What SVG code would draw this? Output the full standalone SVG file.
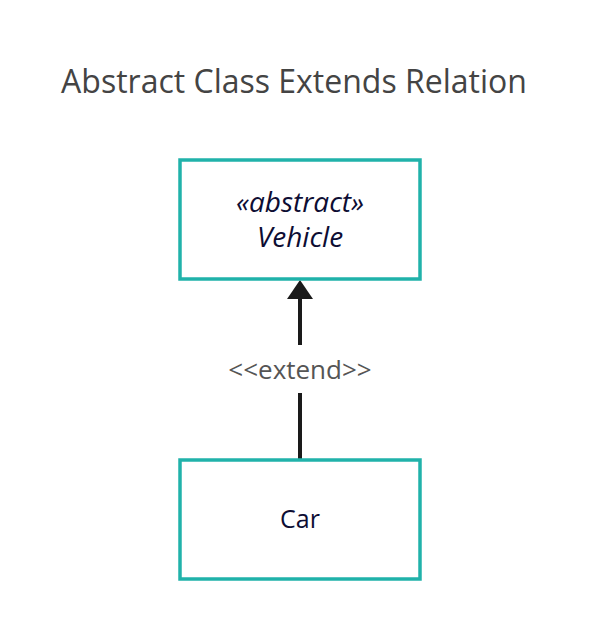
<svg xmlns="http://www.w3.org/2000/svg" width="600" height="621" viewBox="0 0 600 621">
<style>
.box{fill:#ffffff;stroke:#20b2aa;stroke-width:3.5}
.t{font-family:"Open Sans","Liberation Sans",sans-serif;fill:#0d0d33;text-anchor:middle}
.it{font-style:italic;font-size:28px}
.edge{stroke:#1a1a1a;stroke-width:4;fill:none}
</style>
<rect width="600" height="621" fill="#ffffff"/>
<text x="294" y="93" font-family="'Open Sans','Liberation Sans',sans-serif" font-size="32" fill="#444444" text-anchor="middle">Abstract Class Extends Relation</text>
<g id="connectors">
<line class="edge" x1="300" y1="460" x2="300" y2="393"/>
<line class="edge" x1="300" y1="345" x2="300" y2="296"/>
<polygon points="300,280 287,299 313,299" fill="#1a1a1a"/>
<text x="300" y="379" font-family="'Open Sans','Liberation Sans',sans-serif" font-size="26" fill="#555555" text-anchor="middle">&lt;&lt;extend&gt;&gt;</text>
</g>
<g id="vehicle">
<rect class="box" x="180" y="160" width="240" height="119"/>
<text class="t it" x="300" y="212">«abstract»</text>
<text class="t it" x="300" y="247">Vehicle</text>
</g>
<g id="car">
<rect class="box" x="180" y="460" width="240" height="119"/>
<text class="t" x="300" y="528" font-size="25">Car</text>
</g>
</svg>
